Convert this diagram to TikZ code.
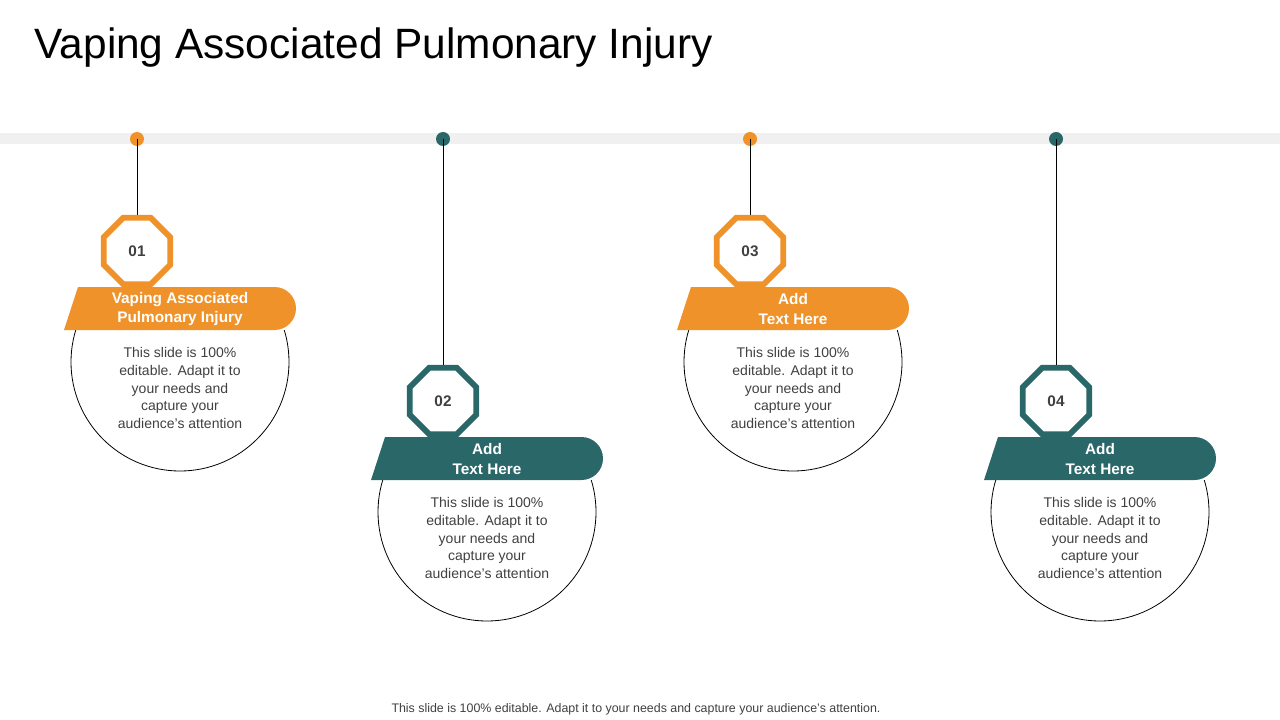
\documentclass[tikz,border=0pt]{standalone}
\usepackage{fontspec}
\setmainfont{Liberation Sans}
\usetikzlibrary{shapes.geometric}
\definecolor{org}{HTML}{F0922A}
\definecolor{tea}{HTML}{2A6769}
\definecolor{txt}{HTML}{404040}
\tikzset{
 oct/.style={regular polygon,regular polygon sides=8,minimum size=54pt,line width=4.4pt,fill=white,font=\bfseries\fontsize{11.5}{13}\selectfont,text=txt,inner sep=0pt},
 btxt/.style={text=white,font=\bfseries\fontsize{11.5}{14.3}\selectfont,align=center},
 body/.style={text=txt,font=\fontsize{10.5}{13.3}\selectfont,align=center},
}
\newcommand{\stepitem}[6]{% x, cx, yo, color, title, name
 \fill[#4] (#1,139) circle (7);
 \draw[black,line width=0.6] (#1,139) -- (#1,#3-36);
 \begin{scope}
 \clip (#2-130,#3+79) rectangle (#2+130,#3+240);
 \draw[black,line width=0.6] (#2,#3+111) circle (109);
 \end{scope}
 \fill[#4] (#2-116,#3+79) -- (#2-102,#3+36) -- (#2+94.5,#3+36) arc (-90:90:21.5) -- cycle;
 \node[btxt] (b#6) at (#2,#3+58) {#5};
 \node[oct,draw=#4] (o#6) at (#1,#3) {0#6};
 \node[body] (t#6) at (#2,#3+137) {This slide is 100\%\\editable. Adapt it to\\your needs and\\capture your\\audience's attention};
}
\begin{document}
\begin{tikzpicture}[x=0.75pt,y=-0.75pt]
\useasboundingbox (0,0) rectangle (1280,720);
\node[anchor=west,font=\fontsize{31.8}{36}\selectfont] (title) at (30,48) {Vaping Associated Pulmonary Injury};
\fill[black!6] (0,133) rectangle (1280,144);
\stepitem{137}{180}{251}{org}{Vaping Associated\\Pulmonary Injury}{1}
\stepitem{443}{487}{401}{tea}{Add\\Text Here}{2}
\stepitem{750}{793}{251}{org}{Add\\Text Here}{3}
\stepitem{1056}{1100}{401}{tea}{Add\\Text Here}{4}
\node[text=txt,font=\fontsize{9.3}{11}\selectfont] (foot) at (636,709) {This slide is 100\% editable. Adapt it to your needs and capture your audience's attention.};
\end{tikzpicture}
\end{document}
